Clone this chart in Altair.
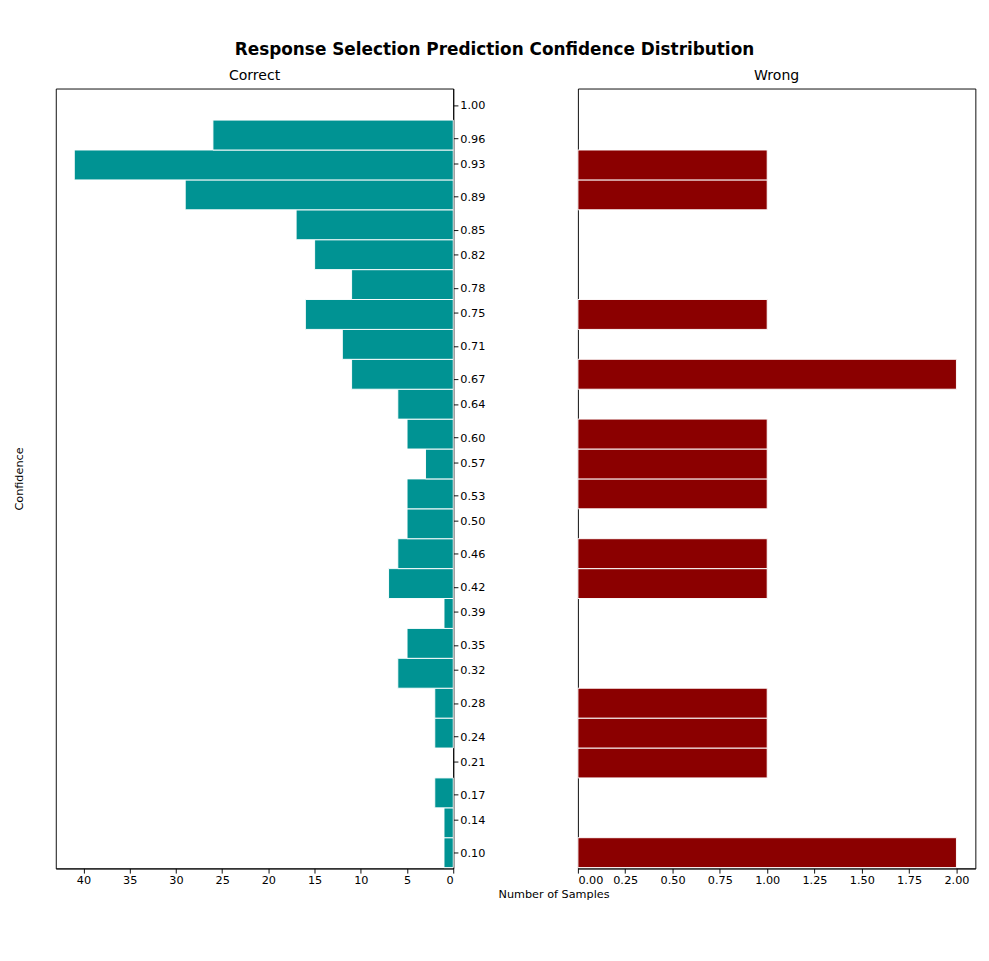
import altair as alt
import pandas as pd

centers = [0.100, 0.136, 0.172, 0.208, 0.244, 0.280, 0.316, 0.352, 0.388, 0.424,
           0.460, 0.496, 0.532, 0.568, 0.604, 0.640, 0.676, 0.712, 0.748, 0.784,
           0.820, 0.856, 0.892, 0.928, 0.964]
correct_counts = [1, 1, 2, 0, 2, 2, 6, 5, 1, 7, 6, 5, 5, 3, 5, 6, 11, 12, 16, 11,
                  15, 17, 29, 41, 26]
wrong_counts = [2, 0, 0, 1, 1, 1, 0, 0, 0, 1, 1, 0, 1, 1, 1, 0, 2, 0, 1, 0,
                0, 0, 1, 1, 0]
tick_values = [0.10, 0.14, 0.17, 0.21, 0.24, 0.28, 0.32, 0.35, 0.39, 0.42, 0.46, 0.50,
               0.53, 0.57, 0.60, 0.64, 0.67, 0.71, 0.75, 0.78, 0.82, 0.85, 0.89, 0.93,
               0.96, 1.00]
half = 0.018

df_c = pd.DataFrame({'lo': [c - half for c in centers], 'hi': [c + half for c in centers],
                     'n': correct_counts})
df_w = pd.DataFrame({'lo': [c - half for c in centers], 'hi': [c + half for c in centers],
                     'n': wrong_counts})
df_w = df_w[df_w.n > 0]
df_c = df_c[df_c.n > 0]

yscale = alt.Scale(domain=[0.081, 1.02], nice=False, zero=False)
xscale_c = alt.Scale(domain=[0, 43], reverse=True, nice=False)
W, H = 424, 832

left_bars = alt.Chart(df_c).mark_bar(color='#009393', stroke='white', strokeWidth=1).encode(
    x=alt.X('n:Q', scale=xscale_c,
            axis=alt.Axis(values=[0, 5, 10, 15, 20, 25, 30, 35, 40], title=None, grid=False)),
    x2=alt.datum(0),
    y=alt.Y('lo:Q', scale=yscale,
            axis=alt.Axis(orient='right', values=tick_values, format='.2f', title=None,
                          grid=False, labelFontSize=12)),
    y2='hi:Q',
)
left_title = alt.Chart(df_c).mark_bar(opacity=0).encode(
    x=alt.X('n:Q', scale=xscale_c),
    x2=alt.datum(0),
    y=alt.Y('lo:Q', scale=yscale,
            axis=alt.Axis(orient='left', labels=False, ticks=False, domain=False, grid=False,
                          title='Confidence', titlePadding=32, titleFontWeight='normal',
                          titleFontSize=12)),
    y2='hi:Q',
)
left = alt.layer(left_bars, left_title).resolve_axis(y='independent').properties(
    width=W, height=H, title='Correct')

right = alt.Chart(df_w).mark_bar(color='#8b0000', stroke='white', strokeWidth=1).encode(
    x=alt.X('n:Q', scale=alt.Scale(domain=[0, 2.1], nice=False),
            axis=alt.Axis(values=[0, 0.25, 0.5, 0.75, 1.0, 1.25, 1.5, 1.75, 2.0], format='.2f',
                          grid=False, title='Number of Samples', titleX=-26,
                          titleAlign='center', titleFontWeight='normal', titleFontSize=12)),
    x2=alt.datum(0),
    y=alt.Y('lo:Q', scale=yscale, axis=None),
    y2='hi:Q',
).properties(width=W, height=H, title='Wrong')

chart = alt.hconcat(left, right, spacing=12).properties(
    title=alt.TitleParams('Response Selection Prediction Confidence Distribution',
                          fontSize=18, fontWeight='bold', anchor='middle', offset=10)
).configure_view(stroke='black', strokeWidth=1).configure_axis(
    labelFontSize=12, labelColor='black', tickColor='black', domainColor='black',
    labelFont='DejaVu Sans', titleFont='DejaVu Sans', titleColor='black'
).configure_title(fontSize=15, fontWeight='normal', font='DejaVu Sans', color='black',
                  offset=6).properties(padding={'left': 5, 'right': 5, 'top': 5, 'bottom': 5})
chart.save("out.html", embed_options={"renderer": "svg", "actions": False})
